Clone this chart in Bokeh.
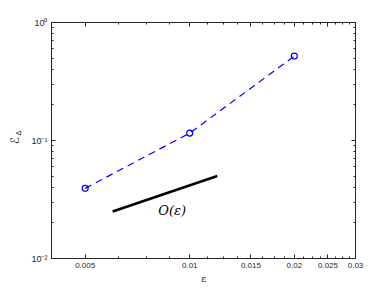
from bokeh.plotting import figure
from bokeh.layouts import row
from bokeh.models import LogAxis, FixedTicker, Label, CustomJSTickFormatter
from bokeh.embed import file_html
from bokeh.resources import INLINE

# data
eps = [0.005, 0.01, 0.02]
err = [0.0393, 0.1155, 0.519]
ref_x = [0.006, 0.012]
ref_y = [0.025, 0.05]
ref_label = "O(ε)"
ref_label_pos = (0.0089, 0.0257)

x_ticks = [0.005, 0.01, 0.015, 0.02, 0.025, 0.03]
x_tick_labels = ["0.005", "0.01", "0.015", "0.02", "0.025", "0.03"]
x_minor = [0.00625, 0.0075, 0.00875, 0.01125, 0.0125, 0.01375, 0.01625, 0.0175,
           0.01875, 0.02125, 0.0225, 0.02375, 0.02625, 0.0275, 0.02875]
y_ticks = [0.01, 0.1, 1.0]
y_tick_labels = ["10⁻²", "10⁻¹", "10⁰"]
y_minor = [k * d for d in (0.01, 0.1) for k in range(2, 10)]

axis_col = "#262626"
font = "Liberation Sans"

LW = 24   # width of the strip holding the y-axis title
H = 286

p = figure(width=384 - LW, height=H, x_axis_type="log", y_axis_type="log",
           x_range=(0.004, 0.03), y_range=(0.01, 1.0),
           output_backend="svg", toolbar_location=None,
           min_border_left=51 - LW, min_border_right=29, min_border_top=22,
           min_border_bottom=25)
p.grid.visible = False
p.outline_line_color = axis_col
p.background_fill_color = "white"
p.border_fill_color = "white"

xt = FixedTicker(ticks=x_ticks, minor_ticks=x_minor)
yt = FixedTicker(ticks=y_ticks, minor_ticks=y_minor)

def style(ax):
    ax.axis_line_color = axis_col
    ax.major_tick_line_color = axis_col
    ax.minor_tick_line_color = axis_col
    ax.major_tick_in = 4
    ax.major_tick_out = 0
    ax.minor_tick_in = 2
    ax.minor_tick_out = 0
    ax.major_label_text_font = font
    ax.major_label_text_font_size = "8px"
    ax.major_label_text_color = axis_col
    ax.major_label_standoff = 4

xa = p.xaxis[0]
xa.ticker = xt
xa.major_label_overrides = {str(t): l for t, l in zip(x_ticks, x_tick_labels)}
style(xa)
xa.axis_label = "ε"
xa.axis_label_text_font = "DejaVu Serif"
xa.axis_label_text_font_style = "normal"
xa.axis_label_text_font_size = "10px"
xa.axis_label_text_color = axis_col
xa.axis_label_standoff = 2

ya = p.yaxis[0]
ya.ticker = yt
ya.formatter = CustomJSTickFormatter(
    args=dict(v=y_ticks, l=y_tick_labels),
    code="for (let i=0;i<v.length;i++){ if (Math.abs(Math.log10(tick)-Math.log10(v[i]))<1e-6) return l[i]; } return '';")
style(ya)
ya.major_label_text_font_size = "9px"

top = LogAxis(ticker=xt, formatter=CustomJSTickFormatter(code="return '';"))
style(top)
p.add_layout(top, "above")
right = LogAxis(ticker=yt, formatter=CustomJSTickFormatter(code="return '';"))
style(right)
p.add_layout(right, "right")

# series
p.line(eps, err, line_color="blue", line_width=1.2, line_dash="7 5")
p.scatter(eps, err, marker="circle", size=6, line_color="blue",
          fill_color=None, line_width=1.2)
p.line(ref_x, ref_y, line_color="black", line_width=2.5)

p.add_layout(Label(x=ref_label_pos[0], y=ref_label_pos[1], text=ref_label,
                   text_font="DejaVu Serif", text_font_style="italic",
                   text_font_size="13px", text_align="center",
                   text_baseline="middle", text_color="black"))

# strip with the y-axis title (calligraphic E, subscript Delta)
lab = figure(width=LW, height=H, x_range=(0, LW), y_range=(0, H),
             output_backend="svg", toolbar_location=None,
             min_border=0, min_border_left=0, min_border_right=0,
             min_border_top=0, min_border_bottom=0)
lab.axis.visible = False
lab.grid.visible = False
lab.outline_line_color = None
lab.add_layout(Label(x=14, y=H - 143, text="ℰ", text_font="DejaVu Sans",
                     text_font_size="12px", text_align="center",
                     text_baseline="middle", angle=1.5708,
                     text_color=axis_col))
lab.add_layout(Label(x=18, y=H - 134, text="Δ", text_font="DejaVu Sans",
                     text_font_size="7px", text_align="center",
                     text_baseline="middle", angle=1.5708,
                     text_color=axis_col))

layout = row(lab, p, spacing=0)
open("out.html", "w").write(file_html(layout, INLINE))
